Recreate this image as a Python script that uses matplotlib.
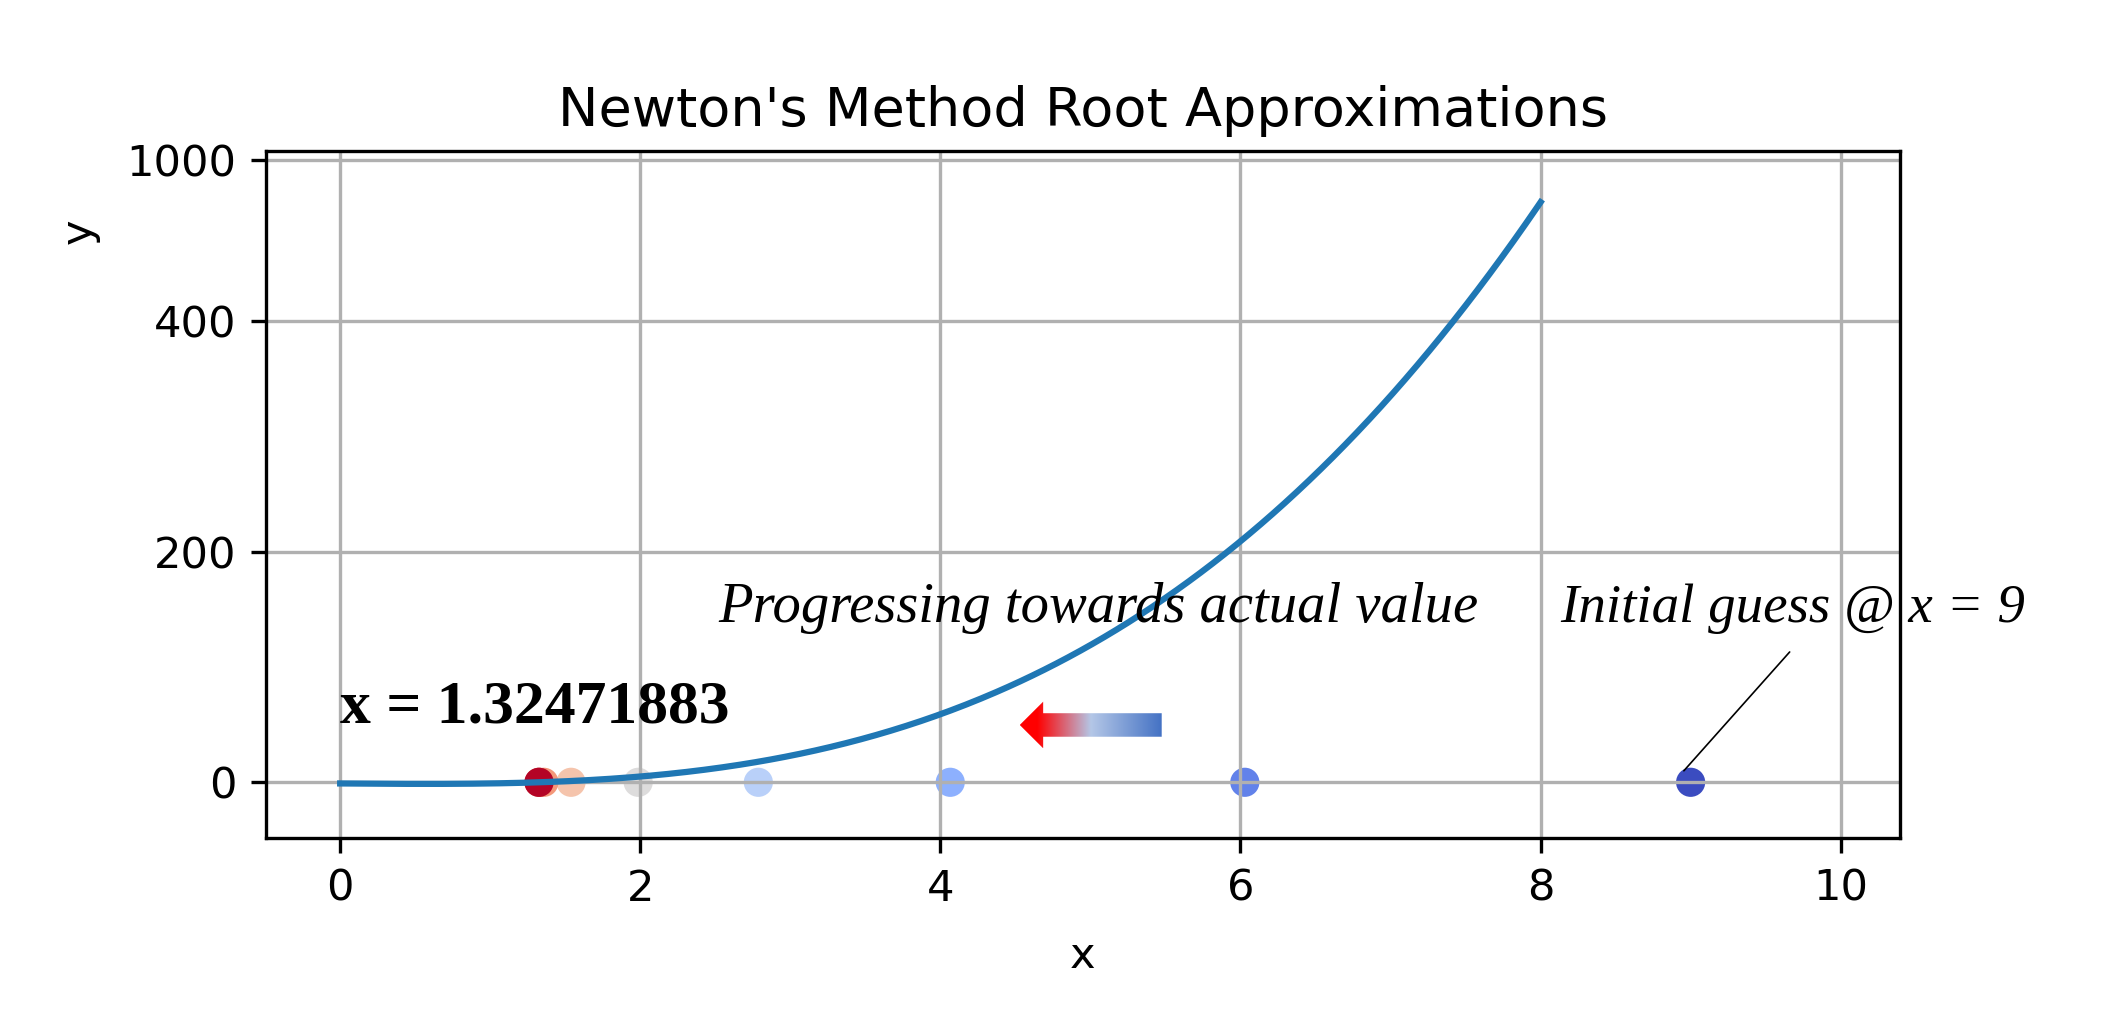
import matplotlib
matplotlib.use('Agg')
import matplotlib.pyplot as plt
import numpy as np
from matplotlib.colors import LinearSegmentedColormap
from matplotlib.patches import Polygon

# f(x) = x^3 - x - 1
poly_coeffs = [1, 0, -1, -1]
curve_x_range = (0, 8)

# Newton iterates starting from x = 9
iterates = [9.0, 6.028926, 4.065737, 2.786839, 1.986052, 1.538563, 1.357709, 1.325688, 1.32471883]

y_ticks = [0, 200, 400, 540]
y_tick_labels = ['0', '200', '400', '1000']
x_ticks = [0, 2, 4, 6, 8, 10]

root_label = 'x = 1.32471883'
progress_label = 'Progressing towards actual value'
initial_label = 'Initial guess @ x = 9'

# arrow pointing from the start towards the root
arrow_tail_x = 5.475
arrow_tip_x = 4.529
arrow_y = 49.7

plt.rcParams['font.size'] = 10.4

fig = plt.figure(figsize=(7.04, 1012 / 300), dpi=300)
ax = fig.add_axes([0.1259, 0.1716, 0.8996 - 0.1259, 0.8508 - 0.1716])

xs = np.linspace(curve_x_range[0], curve_x_range[1], 400)
ax.plot(xs, np.polyval(poly_coeffs, xs), color='#1f77b4', lw=1.5)

cols = plt.cm.coolwarm(np.linspace(0, 1, len(iterates)))
ax.scatter(iterates, np.zeros(len(iterates)), c=cols, s=36)

serif = 'Liberation Serif'
ax.text(0.0, 51.7, root_label, fontsize=14.8, fontweight='bold', family=serif, va='baseline', ha='left')
ax.text(2.52, 139.3, progress_label, fontsize=13.6, style='italic', family=serif, va='baseline', ha='left')
ax.text(8.13, 139.3, initial_label, fontsize=13.2, style='italic', family=serif, va='baseline', ha='left',
        clip_on=False)
ax.annotate('', xy=(8.955, 10.0), xytext=(9.66, 113),
            arrowprops=dict(arrowstyle='-', color='black', lw=0.4, shrinkA=0, shrinkB=0))

# gradient arrow
head_len = 0.156
head_half = 20.2
shaft_half = 10.2
hx = arrow_tip_x + head_len
verts = [(arrow_tip_x, arrow_y), (hx, arrow_y + head_half), (hx, arrow_y + shaft_half),
         (arrow_tail_x, arrow_y + shaft_half), (arrow_tail_x, arrow_y - shaft_half),
         (hx, arrow_y - shaft_half), (hx, arrow_y - head_half)]
arrow_cmap = LinearSegmentedColormap.from_list(
    'arrowgrad', [(0, '#ff0000'), (0.12, '#ff0000'), (0.5, '#b4c7e7'), (1, '#4472c4')])
grad = np.linspace(0, 1, 256).reshape(1, -1)
im = ax.imshow(grad, cmap=arrow_cmap, aspect='auto', origin='lower', zorder=3,
               extent=[arrow_tip_x, arrow_tail_x, arrow_y - head_half, arrow_y + head_half])
clip = Polygon(verts, closed=True, transform=ax.transData, facecolor='none', edgecolor='none')
ax.add_patch(clip)
im.set_clip_path(clip)

ax.set_xlim(-0.495, 10.395)
ax.set_ylim(-48.6, 547.4)
ax.set_xticks(x_ticks)
ax.set_yticks(y_ticks)
ax.set_yticklabels(y_tick_labels)
ax.grid(True)
ax.set_title("Newton's Method Root Approximations", fontsize=13)
ax.set_xlabel('x', labelpad=6)
ax.set_ylabel('y')
ax.yaxis.set_label_coords(-0.1016, 0.8840)

fig.savefig('out.png', dpi=300)
